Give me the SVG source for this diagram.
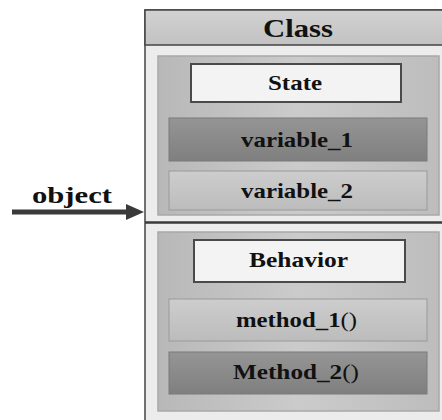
<svg xmlns="http://www.w3.org/2000/svg" width="442" height="420" viewBox="0 0 442 420">
<style>
.panel{fill:url(#gPanel);stroke:#a8a8a8;stroke-width:1.5}
.title{fill:#f3f3f3;stroke:#4a4a4a;stroke-width:2}
.dark{fill:url(#gDark);stroke:#7a7a7a;stroke-width:1}
.light{fill:url(#gLight);stroke:#9a9a9a;stroke-width:1}
</style>
<defs>
<linearGradient id="gPanel" x1="0" y1="0" x2="1" y2="0"><stop offset="0" stop-color="#b8b8b8"/><stop offset="0.5" stop-color="#cbcbcb"/><stop offset="1" stop-color="#bdbdbd"/></linearGradient>
<linearGradient id="gDark" x1="0" y1="0" x2="0" y2="1"><stop offset="0" stop-color="#959595"/><stop offset="1" stop-color="#7f7f7f"/></linearGradient>
<linearGradient id="gLight" x1="0" y1="0" x2="0" y2="1"><stop offset="0" stop-color="#cdcdcd"/><stop offset="1" stop-color="#bcbcbc"/></linearGradient>
<linearGradient id="gHead" x1="0" y1="0" x2="0" y2="1"><stop offset="0" stop-color="#d2d2d2"/><stop offset="1" stop-color="#c2c2c2"/></linearGradient>
</defs>
<rect width="442" height="420" fill="#ffffff"/>
<g font-family="'Liberation Serif','Times New Roman',serif" font-weight="bold" fill="#111" font-size="22">
<g id="class">
<rect x="145" y="10" width="300" height="415" fill="#ececec" stroke="#444" stroke-width="1.5"/>
<rect x="145" y="10" width="300" height="35" fill="url(#gHead)" stroke="#444" stroke-width="1.5"/>
<text x="263" y="37" font-size="25" textLength="70" lengthAdjust="spacingAndGlyphs">Class</text>
<line x1="145" y1="222.5" x2="442" y2="222.5" stroke="#3a3a3a" stroke-width="2.5"/>
</g>
<g id="state-panel">
<rect class="panel" x="158" y="56" width="281" height="159"/>
</g>
<g id="state">
<rect class="title" x="191" y="64" width="210" height="38"/>
<text x="268" y="90" textLength="54" lengthAdjust="spacingAndGlyphs">State</text>
</g>
<g id="variable_1">
<rect class="dark" x="169" y="118" width="258" height="43"/>
<text x="241" y="147" textLength="112" lengthAdjust="spacingAndGlyphs">variable_1</text>
</g>
<g id="variable_2">
<rect class="light" x="169" y="171" width="258" height="39"/>
<text x="241" y="198" textLength="112" lengthAdjust="spacingAndGlyphs">variable_2</text>
</g>
<g id="behavior-panel">
<rect class="panel" x="158" y="232" width="281" height="179"/>
</g>
<g id="behavior">
<rect class="title" x="194" y="240" width="211" height="42"/>
<text x="249" y="267" textLength="99" lengthAdjust="spacingAndGlyphs">Behavior</text>
</g>
<g id="method_1">
<rect class="light" x="169" y="299" width="258" height="42"/>
<text x="236" y="327" textLength="121" lengthAdjust="spacingAndGlyphs">method_1<tspan font-weight="normal">()</tspan></text>
</g>
<g id="method_2">
<rect class="dark" x="169" y="352" width="258" height="42"/>
<text x="233" y="379" textLength="126" lengthAdjust="spacingAndGlyphs">Method_2<tspan font-weight="normal">()</tspan></text>
</g>
<g id="object">
<text x="32" y="203" font-size="24" textLength="80" lengthAdjust="spacingAndGlyphs">object</text>
</g>
</g>
<g id="connectors">
<line x1="12" y1="212" x2="128" y2="212" stroke="#3a3a3a" stroke-width="5"/>
<path d="M126,204 L144,212 L126,220 Z" fill="#3a3a3a"/>
</g>
</svg>
